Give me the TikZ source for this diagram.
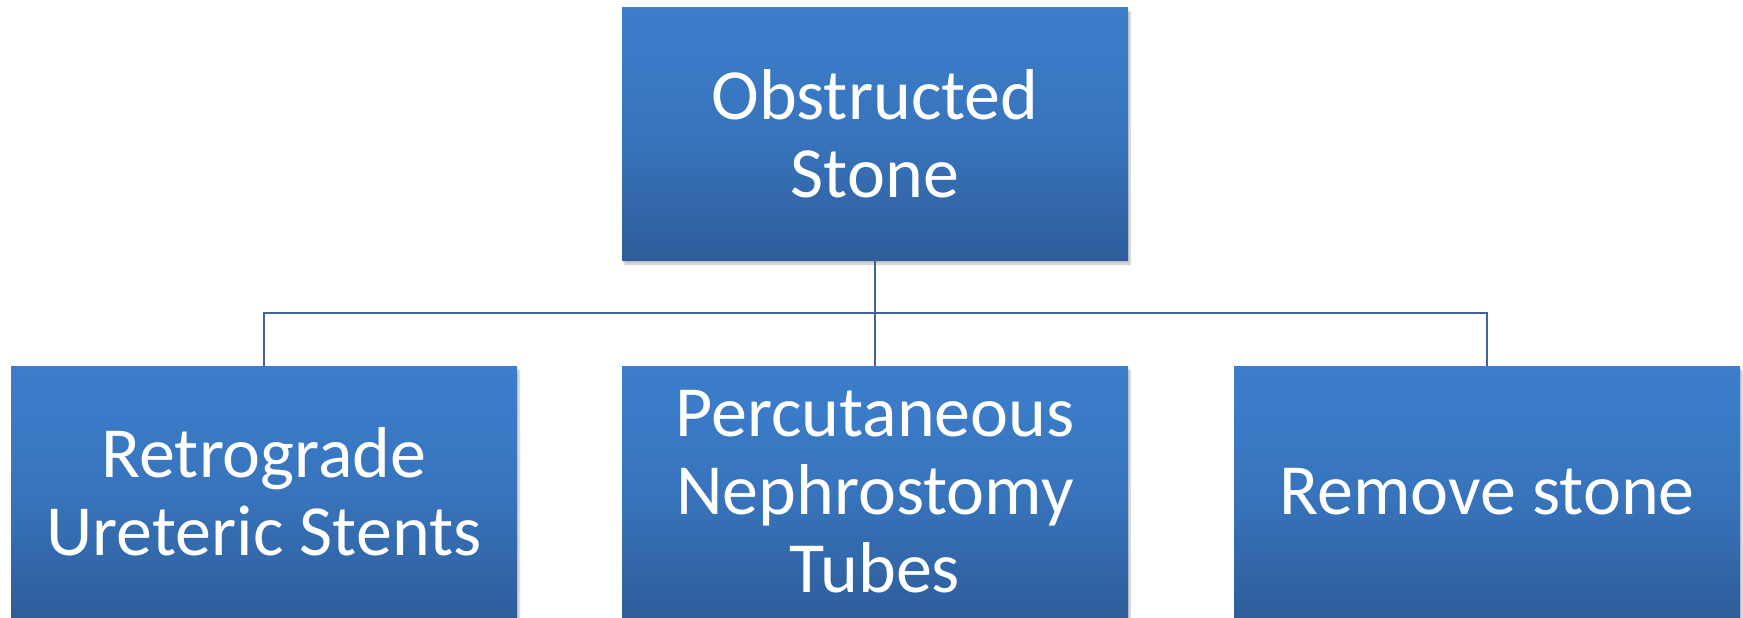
\documentclass[tikz,border=0pt]{standalone}
\usepackage{fontspec}
\setmainfont{Carlito}
\usetikzlibrary{shadows.blur}
\definecolor{boxtop}{RGB}{60,126,204}
\definecolor{boxbot}{RGB}{46,93,154}
\definecolor{linecol}{RGB}{65,100,150}
\tikzset{
  box/.style={rectangle, minimum width=506pt, minimum height=252pt, inner sep=0pt,
    top color=boxtop, bottom color=boxbot, middle color=boxtop!70!boxbot,
    text=white, align=center, font=\fontsize{72}{78}\selectfont,
    blur shadow={shadow xshift=2pt, shadow yshift=-4pt, shadow blur steps=6, shadow opacity=25}},
  conn/.style={draw=linecol, line width=1.8pt}
}
\begin{document}
\begin{tikzpicture}[x=1pt,y=-1pt]
\useasboundingbox (0,0) rectangle (1743,618);
\node[box] (top) at (875,134) {Obstructed\\Stone};
\node[box] (b1) at (264,492) {Retrograde\\Ureteric Stents};
\node[box] (b2) at (875,492) {Percutaneous\\Nephrostomy\\Tubes};
\node[box] (b3) at (1487,492) {Remove stone};
\coordinate (bus) at (875,313);
\draw[conn] (top.south) -- (b2.north);
\draw[conn] (b1.north) |- (bus) -| (b3.north);
\end{tikzpicture}
\end{document}
